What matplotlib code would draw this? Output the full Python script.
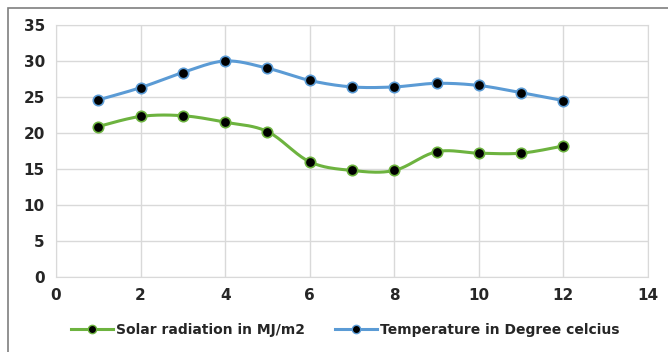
import numpy as np
import matplotlib
matplotlib.use("Agg")
import matplotlib.pyplot as plt
from matplotlib.patches import Rectangle

# data
months = [1, 2, 3, 4, 5, 6, 7, 8, 9, 10, 11, 12]
solar = [20.9, 22.3, 22.4, 21.5, 20.2, 16.0, 14.8, 14.8, 17.4, 17.2, 17.2, 18.2]
temperature = [24.6, 26.3, 28.4, 30.0, 29.0, 27.3, 26.4, 26.4, 26.9, 26.6, 25.6, 24.5]
x_ticks = [0, 2, 4, 6, 8, 10, 12, 14]
y_ticks = [0, 5, 10, 15, 20, 25, 30, 35]

SOLAR_COLOR = "#6DB33F"
TEMP_COLOR = "#5B9BD5"
TEXT_COLOR = "#262626"


def smooth(xs, ys, steps=20):
    # Catmull-Rom style smoothing, like Excel's "smoothed line"
    xs = np.asarray(xs, float)
    ys = np.asarray(ys, float)
    px = np.concatenate([[xs[0]], xs, [xs[-1]]])
    py = np.concatenate([[ys[0]], ys, [ys[-1]]])
    out_x, out_y = [], []
    for i in range(1, len(px) - 2):
        t = np.linspace(0, 1, steps, endpoint=False)
        for arr, out in ((px, out_x), (py, out_y)):
            p0, p1, p2, p3 = arr[i - 1], arr[i], arr[i + 1], arr[i + 2]
            c1 = p1 + (p2 - p0) / 6
            c2 = p2 - (p3 - p1) / 6
            out.extend((1 - t) ** 3 * p1 + 3 * (1 - t) ** 2 * t * c1
                       + 3 * (1 - t) * t ** 2 * c2 + t ** 3 * p2)
    out_x.append(xs[-1])
    out_y.append(ys[-1])
    return out_x, out_y


fig = plt.figure(figsize=(6.68, 3.52), dpi=100)
ax = fig.add_axes([56 / 668, 75 / 352, 592 / 668, 252 / 352])

# outer frame
fig.patches.append(Rectangle((8 / 668, -0.1), 1.2, (352 - 8) / 352 + 0.1,
                             transform=fig.transFigure, fill=False,
                             edgecolor="#7F7F7F", linewidth=1.2))

for values, color, label in (
    (solar, SOLAR_COLOR, "Solar radiation in MJ/m2"),
    (temperature, TEMP_COLOR, "Temperature in Degree celcius"),
):
    sx, sy = smooth(months, values)
    ax.plot(sx, sy, color=color, linewidth=2.2, zorder=3)
    ax.plot(months, values, linestyle="none", marker="o", markersize=7.5,
            markerfacecolor="black", markeredgecolor=color,
            markeredgewidth=1.2, zorder=4)
    ax.plot([], [], color=color, linewidth=2.2, marker="o", markersize=6,
            markerfacecolor="black", markeredgecolor=color, label=label)

ax.set_xlim(0, 14)
ax.set_ylim(0, 35)
ax.set_xticks(x_ticks)
ax.set_yticks(y_ticks)
ax.grid(True, color="#D9D9D9", linewidth=1)
ax.set_axisbelow(True)
for spine in ax.spines.values():
    spine.set_color("#D9D9D9")
ax.tick_params(length=0, pad=8, labelsize=11, labelcolor=TEXT_COLOR)
for lbl in ax.get_xticklabels() + ax.get_yticklabels():
    lbl.set_fontweight("bold")

leg = fig.legend(loc="center", bbox_to_anchor=(0.517, 22 / 352), ncol=2,
                 frameon=False, fontsize=10, handlelength=3,
                 columnspacing=2.2, handletextpad=0.2)
for txt in leg.get_texts():
    txt.set_fontweight("bold")
    txt.set_color(TEXT_COLOR)

fig.savefig("out.png", dpi=100)
